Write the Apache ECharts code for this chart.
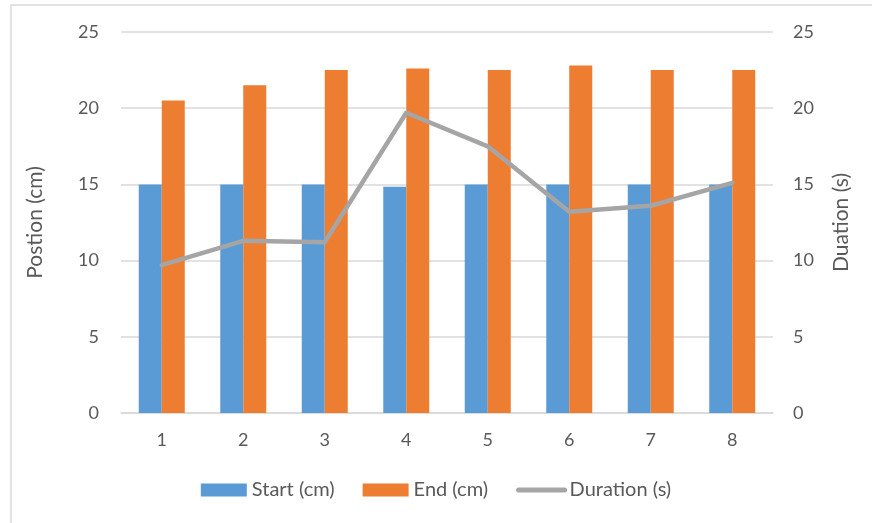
<!DOCTYPE html>
<html>
<head>
<meta charset="utf-8">
<script src="https://cdn.jsdelivr.net/npm/echarts@6/dist/echarts.min.js"></script>
<style>html,body{margin:0;padding:0;background:#fff}#c{width:872px;height:523px}</style>
</head>
<body>
<div id="c"></div>
<script>
const categories = ['1','2','3','4','5','6','7','8'];
const startCm = [15, 15, 15, 14.85, 15, 15, 15, 15];
const endCm = [20.5, 21.5, 22.5, 22.6, 22.5, 22.8, 22.5, 22.5];
const durationS = [9.7, 11.3, 11.2, 19.7, 17.5, 13.2, 13.6, 15.1];
const seriesNames = ['Start (cm)', 'End (cm)', 'Duration (s)'];
const leftAxisName = 'Postion (cm)';
const rightAxisName = 'Duation (s)';

const font = 'Lato, "Open Sans", sans-serif';
const txt = '#595959';
const chart = echarts.init(document.getElementById('c'));
chart.setOption({
  animation: false,
  textStyle: { fontFamily: font },
  graphic: [{
    type: 'rect', shape: { x: 11, y: 5, width: 900, height: 560 },
    style: { fill: 'none', stroke: '#d9d9d9', lineWidth: 1.5 }, silent: true, z: -10
  }],
  grid: { left: 121, right: 99, top: 32, bottom: 110 },
  legend: {
    bottom: 18, left: 'center', itemWidth: 46, itemHeight: 13, itemGap: 28,
    textStyle: { fontSize: 20, color: txt, fontFamily: font },
    data: [
      { name: seriesNames[0], icon: 'rect' },
      { name: seriesNames[1], icon: 'rect' },
      { name: seriesNames[2], itemStyle: { color: 'rgba(0,0,0,0)', borderColor: 'rgba(0,0,0,0)', borderWidth: 0, opacity: 0 },
        lineStyle: { width: 5, color: '#A5A5A5', cap: 'round' } }
    ]
  },
  xAxis: {
    type: 'category', data: categories,
    axisLine: { lineStyle: { color: '#d9d9d9', width: 1.5 } },
    axisTick: { show: false },
    axisLabel: { fontSize: 18, color: txt, margin: 18, fontFamily: font }
  },
  yAxis: [{
    type: 'value', min: 0, max: 25, interval: 5,
    name: leftAxisName, nameLocation: 'middle', nameGap: 75, nameRotate: 90,
    nameTextStyle: { fontSize: 21, color: txt, fontFamily: font },
    axisLine: { show: false }, axisTick: { show: false },
    axisLabel: { fontSize: 18, color: txt, margin: 22, fontFamily: font },
    splitLine: { lineStyle: { color: '#d9d9d9', width: 1.5 } }
  }, {
    type: 'value', min: 0, max: 25, interval: 5,
    name: rightAxisName, nameLocation: 'middle', nameGap: 58, nameRotate: 90,
    nameTextStyle: { fontSize: 21, color: txt, fontFamily: font },
    axisLine: { show: false }, axisTick: { show: false },
    axisLabel: { fontSize: 18, color: txt, margin: 20, fontFamily: font },
    splitLine: { show: false }
  }],
  series: [{
    name: seriesNames[0], type: 'bar', data: startCm, barWidth: 23, barGap: '0%',
    itemStyle: { color: '#5B9BD5' }
  }, {
    name: seriesNames[1], type: 'bar', data: endCm, barWidth: 23,
    itemStyle: { color: '#ED7D31' }
  }, {
    name: seriesNames[2], type: 'line', yAxisIndex: 1, data: durationS,
    symbol: 'none', lineStyle: { color: '#A5A5A5', width: 4.5, cap: 'round', join: 'round' },
    itemStyle: { color: '#A5A5A5' }, z: 5
  }]
});
</script>
</body>
</html>
